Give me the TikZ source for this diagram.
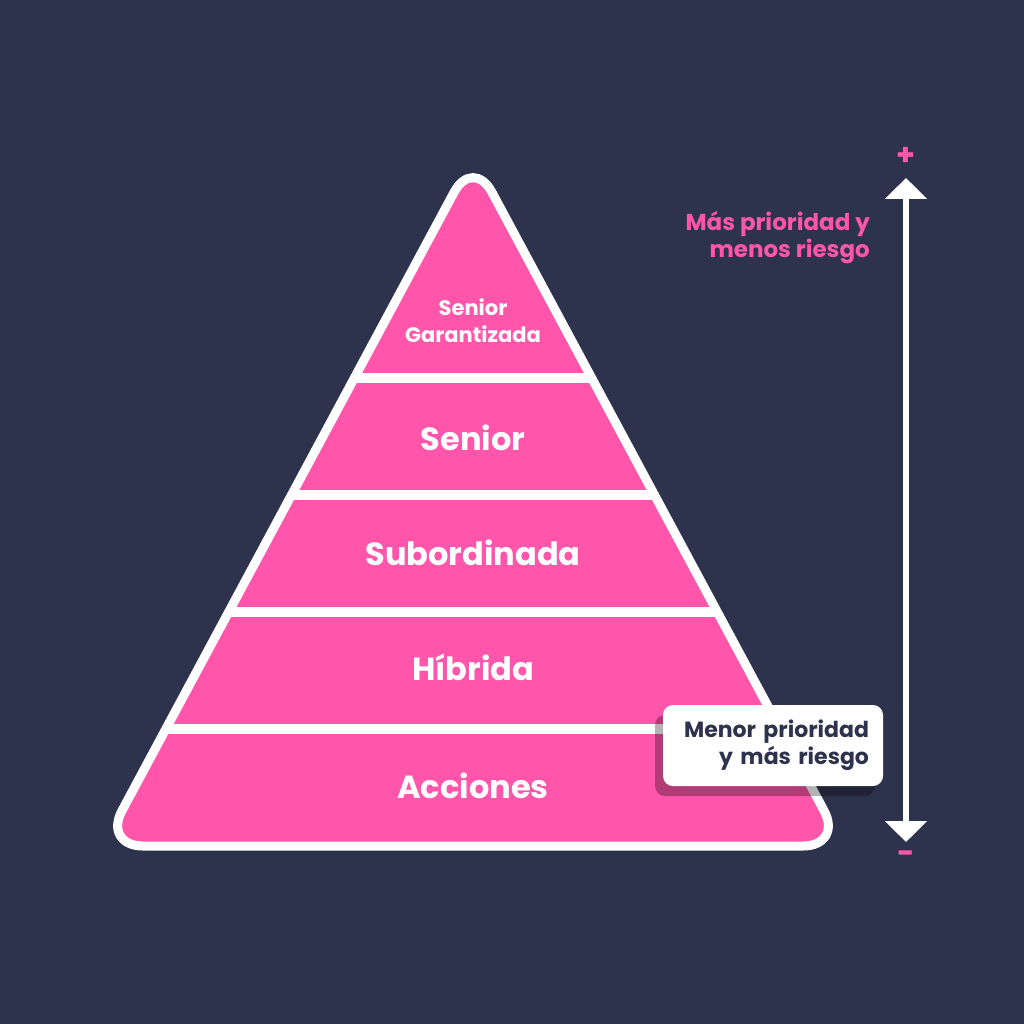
\documentclass[tikz,border=0pt]{standalone}
\usepackage{fontspec}
\setmainfont{Poppins}
\usetikzlibrary{arrows.meta,shadows}
\definecolor{fondo}{HTML}{2E334D}
\definecolor{rosa}{HTML}{FF55AA}
\definecolor{tinta}{HTML}{2E334D}
\tikzset{
  capa/.style={text=white, font=\bfseries\fontsize{32}{36}\selectfont, anchor=base},
  capachica/.style={text=white, font=\bfseries\fontsize{21}{27}\selectfont, align=center, anchor=base},
  lado/.style={text=rosa, font=\bfseries\fontsize{23}{28}\selectfont, anchor=base east, inner sep=0pt},
  signo/.style={text=rosa, font=\bfseries\fontsize{30}{30}\selectfont},
  flecha/.style={white, line width=6pt, {Triangle[width=41pt,length=21pt]}-{Triangle[width=41pt,length=21pt]}},
  caja/.style={fill=white, rounded corners=10pt, minimum width=220pt, minimum height=81pt,
    text width=192pt, inner xsep=14pt, inner ysep=0pt, align=right, text=tinta,
    font=\bfseries\fontsize{22}{27}\selectfont,
    drop shadow={shadow xshift=-8pt, shadow yshift=-10pt, opacity=0.3, fill=black}},
}
\begin{document}
\begin{tikzpicture}[x=1pt,y=-1pt]
\fill[fondo] (0,0) rectangle (1024,1024);
\coordinate (cima) at (473,157);
\coordinate (izq) at (103,846);
\coordinate (der) at (843,846);
\filldraw[fill=rosa, draw=white, line width=9pt, rounded corners=40pt] (cima) -- (der) -- (izq) -- cycle;
\begin{scope}
  \clip[rounded corners=40pt] (cima) -- (der) -- (izq) -- cycle;
  \foreach \y in {378,495,612,729}
    \draw[white, line width=10pt] (80,\y) -- (870,\y);
\end{scope}

\node[capachica] (garantizada) at (473,342) {Senior\\Garantizada};
\node[capa] (senior) at (473,450) {Senior};
\node[capa] (subordinada) at (473,565) {Subordinada};
\node[capa] (hibrida) at (473,680) {Híbrida};
\node[capa] (acciones) at (473,798) {Acciones};

\node[lado] (masprio) at (870,230) {Más prioridad y};
\node[lado] (menosriesgo) at (870,258) {menos riesgo};

\coordinate (tope) at (906,178);
\coordinate (pie) at (906,842);
\draw[flecha] (tope) -- (pie);
\node[signo] (mas) at (906,156) {+};
\node[signo] (menos) at (906,857) {-};

\node[caja] (aviso) at (773,745.5) {Menor prioridad\\y más riesgo};
\end{tikzpicture}
\end{document}
